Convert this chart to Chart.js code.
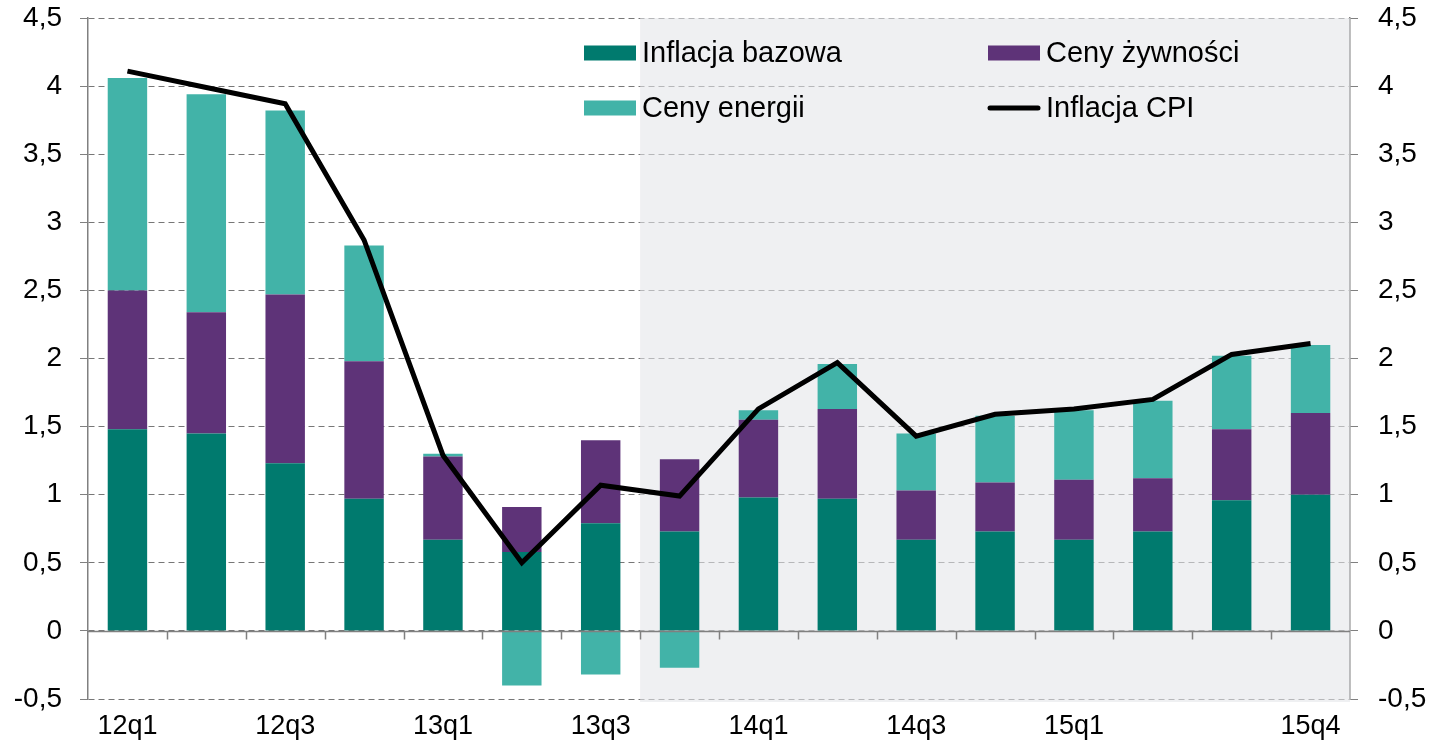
<!DOCTYPE html>
<html>
<head>
<meta charset="utf-8">
<script src="https://cdn.jsdelivr.net/npm/chart.js@4.4.0/dist/chart.umd.min.js"></script>
<style>
    html, body { margin: 0; padding: 0; background: #fff; }
    canvas { display: block; }
</style>
</head>
<body>
<canvas id="inflChart" width="1441" height="743"></canvas>
<script>
// Quarters and the labels actually printed under the axis
const categories = ['12q1', '12q2', '12q3', '12q4', '13q1', '13q2', '13q3', '13q4',
                    '14q1', '14q2', '14q3', '14q4', '15q1', '15q2', '15q3', '15q4'];
const xTickLabels = ['12q1', '', '12q3', '', '13q1', '', '13q3', '',
                     '14q1', '', '14q3', '', '15q1', '', '', '15q4'];

// Contributions (pp) and headline CPI (%)
const coreInflation = [1.48, 1.45, 1.23, 0.97, 0.67, 0.58, 0.79, 0.73, 0.98, 0.97, 0.67, 0.73, 0.67, 0.73, 0.96, 1.00];
const foodPrices    = [1.02, 0.89, 1.24, 1.01, 0.61, 0.33, 0.61, 0.53, 0.57, 0.66, 0.36, 0.36, 0.44, 0.39, 0.52, 0.60];
const energyPrices  = [1.56, 1.60, 1.35, 0.85, 0.02, -0.40, -0.32, -0.27, 0.07, 0.33, 0.42, 0.49, 0.51, 0.57, 0.54, 0.50];
const cpiInflation  = [4.11, 3.99, 3.87, 2.87, 1.29, 0.50, 1.07, 0.99, 1.63, 1.97, 1.43, 1.59, 1.63, 1.70, 2.03, 2.11];

// Y axis range, and first forecast quarter (shaded)
const yMin = -0.5, yMax = 4.5, yStep = 0.5;
const forecastStart = '13q4';

const colors = {
    core: '#007A6E',
    food: '#5E3378',
    energy: '#42B3A8',
    cpi: '#000000',
    axis: '#808080',
    grid: '#777777',
    shade: 'rgba(228, 229, 233, 0.58)'
};
const FONT = 'Liberation Sans, Arial, sans-serif';
const fmt = v => String(v).replace('.', ',');

// ========== SHADED FORECAST AREA ==========
const forecastShade = {
    id: 'forecastShade',
    beforeDatasetsDraw(chart) {
        const { ctx, chartArea: a, scales: { x } } = chart;
        const i = categories.indexOf(forecastStart);
        const x0 = (x.getPixelForValue(i - 1) + x.getPixelForValue(i)) / 2;
        ctx.save();
        ctx.fillStyle = colors.shade;
        ctx.fillRect(x0, a.top, a.right - x0, a.bottom - a.top + 3);
        ctx.restore();
    }
};

// ========== ZERO LINE WITH CATEGORY TICKS ==========
const zeroAxis = {
    id: 'zeroAxis',
    afterDatasetsDraw(chart) {
        const { ctx, chartArea: a, scales: { x, y } } = chart;
        const y0 = Math.round(y.getPixelForValue(0)) + 0.5;
        const half = (x.getPixelForValue(1) - x.getPixelForValue(0)) / 2;
        ctx.save();
        ctx.strokeStyle = colors.axis;
        ctx.lineWidth = 1.5;
        ctx.beginPath();
        ctx.moveTo(a.left, y0);
        ctx.lineTo(a.right, y0);
        for (let i = 1; i < categories.length; i++) {
            const xx = Math.round(x.getPixelForValue(i) - half) + 0.5;
            ctx.moveTo(xx, y0);
            ctx.lineTo(xx, y0 + 8);
        }
        ctx.stroke();
        ctx.restore();
    }
};

// ========== LEGEND INSIDE PLOT ==========
const insideLegend = {
    id: 'insideLegend',
    afterDraw(chart) {
        const { ctx } = chart;
        const ds = chart.data.datasets;
        // [dataset index, column x, row y]
        const slots = [[0, 584, 53], [1, 988, 53], [2, 584, 108], [3, 988, 108]];
        ctx.save();
        ctx.font = '29px ' + FONT;
        ctx.textBaseline = 'middle';
        slots.forEach(([k, lx, ly]) => {
            const d = ds[k];
            if (d.type === 'line') {
                ctx.strokeStyle = d.borderColor;
                ctx.lineWidth = 5;
                ctx.lineCap = 'round';
                ctx.beginPath();
                ctx.moveTo(lx + 2, ly);
                ctx.lineTo(lx + 50, ly);
                ctx.stroke();
            } else {
                ctx.fillStyle = d.backgroundColor;
                ctx.fillRect(lx, ly - 7.5, 52, 15);
            }
            ctx.fillStyle = '#000';
            ctx.fillText(d.label, lx + 58, ly + 1);
        });
        ctx.restore();
    }
};

const yTicksCommon = {
    color: '#000',
    font: { family: FONT, size: 28 },
    stepSize: yStep,
    callback: v => fmt(v)
};

// fixed axis widths, no extra room reserved for the end labels
const fixY = w => s => { s.width = w; s.paddingTop = 0; s.paddingBottom = 0; };

new Chart(document.getElementById('inflChart'), {
    type: 'bar',
    data: {
        labels: categories,
        datasets: [
            { label: 'Inflacja bazowa', data: coreInflation, backgroundColor: colors.core, order: 1 },
            { label: 'Ceny żywności', data: foodPrices, backgroundColor: colors.food, order: 1 },
            { label: 'Ceny energii', data: energyPrices, backgroundColor: colors.energy, order: 1 },
            {
                label: 'Inflacja CPI', data: cpiInflation, type: 'line', order: 0,
                borderColor: colors.cpi, borderWidth: 5, pointRadius: 0,
                tension: 0, fill: false, borderJoinStyle: 'miter'
            }
        ]
    },
    options: {
        responsive: false,
        animation: false,
        devicePixelRatio: 1,
        datasets: { bar: { barPercentage: 0.5, categoryPercentage: 1, borderWidth: 0 } },
        layout: { padding: { top: 18 } },
        plugins: { legend: { display: false }, tooltip: { enabled: false } },
        scales: {
            x: {
                stacked: true,
                grid: { display: false },
                border: { display: false },
                ticks: {
                    color: '#000',
                    font: { family: FONT, size: 27 },
                    autoSkip: false,
                    maxRotation: 0,
                    padding: 3,
                    callback: (v, i) => xTickLabels[i]
                },
                afterFit: s => { s.height = 44; }
            },
            y: {
                stacked: true,
                min: yMin, max: yMax,
                grid: { color: colors.grid, lineWidth: 1, tickLength: 8, tickColor: colors.axis },
                border: { color: colors.axis, width: 1.5, dash: [6, 4] },
                ticks: { ...yTicksCommon, padding: 18 },
                afterFit: fixY(88)
            },
            y2: {
                position: 'right',
                min: yMin, max: yMax,
                grid: { drawOnChartArea: false, tickLength: 8, tickColor: colors.axis },
                border: { color: colors.axis, width: 1.5 },
                ticks: { ...yTicksCommon, padding: 20 },
                afterFit: fixY(91)
            }
        }
    },
    plugins: [forecastShade, zeroAxis, insideLegend]
});
</script>
</body>
</html>
